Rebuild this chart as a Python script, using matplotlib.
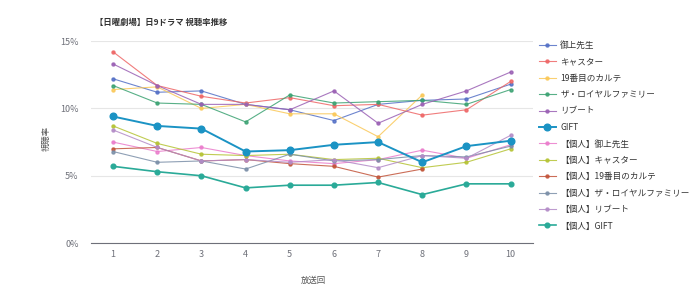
import matplotlib
matplotlib.use("Agg")
import matplotlib.pyplot as plt
import numpy as np

plt.rcParams['font.family'] = ['Noto Sans CJK JP', 'DejaVu Sans']

episodes = [1, 2, 3, 4, 5, 6, 7, 8, 9, 10]

series_names = [
    "御上先生", "キャスター", "19番目のカルテ", "ザ・ロイヤルファミリー", "リブート", "GIFT",
    "【個人】御上先生", "【個人】キャスター", "【個人】19番目のカルテ",
    "【個人】ザ・ロイヤルファミリー", "【個人】リブート", "【個人】GIFT",
]

mikami = [12.2, 11.2, 11.3, 10.3, 9.9, 9.1, 10.3, 10.6, 10.7, 11.8]
caster = [14.2, 11.7, 10.9, 10.4, 10.8, 10.2, 10.3, 9.5, 9.9, 12.0]
karte19 = [11.4, 11.6, 10.0, 10.3, 9.6, 9.6, 7.9, 11.0, None, None]
royal = [11.7, 10.4, 10.3, 9.0, 11.0, 10.4, 10.5, 10.6, 10.3, 11.4]
reboot = [13.3, 11.7, 10.3, 10.3, 9.9, 11.3, 8.9, 10.3, 11.3, 12.7]
gift = [9.4, 8.7, 8.5, 6.8, 6.9, 7.3, 7.5, 6.0, 7.2, 7.6]

p_mikami = [7.5, 6.8, 7.1, 6.5, 6.1, 5.9, 6.2, 6.9, 6.3, 7.3]
p_caster = [8.7, 7.4, 6.6, 6.5, 6.6, 6.2, 6.3, 5.6, 6.0, 7.0]
p_karte19 = [7.0, 7.1, 6.1, 6.2, 5.9, 5.7, 4.9, 5.5, None, None]
p_royal = [6.8, 6.0, 6.1, 5.5, 6.6, 6.1, 6.2, 6.5, 6.4, 7.2]
p_reboot = [8.4, 7.1, 6.1, 6.2, 6.0, 6.2, 5.6, 6.5, 6.3, 8.0]
p_gift = [5.7, 5.3, 5.0, 4.1, 4.3, 4.3, 4.5, 3.6, 4.4, 4.4]

all_series = [mikami, caster, karte19, royal, reboot, gift,
              p_mikami, p_caster, p_karte19, p_royal, p_reboot, p_gift]

colors = ["#5470c6", "#ee6666", "#fac858", "#3ba272", "#9a60b4", "#1b93c4",
          "#ea7ccc", "#b5c334", "#c2543a", "#7b8fa8", "#b38bc7", "#2aaa98"]

fig = plt.figure(figsize=(7.0, 3.02), dpi=100)
ax = fig.add_axes([0.13, 0.195, 0.631, 0.669])

for i, (name, vals, col) in enumerate(zip(series_names, all_series, colors)):
    y = np.array([np.nan if v is None else v for v in vals], dtype=float)
    if i == 5:
        lw, ms, z = 1.4, 4.8, 4
    elif i == 11:
        lw, ms, z = 1.2, 3.4, 3
    else:
        lw, ms, z = 0.8, 2.2, 2
    ax.plot(episodes, y, color=col, lw=lw, marker='o', ms=ms,
            alpha=1.0 if i in (5, 11) else 0.85, label=name, zorder=z)

ax.set_xlim(0.5, 10.5)
ax.set_ylim(0, 15)
ax.set_yticks([0, 5, 10, 15])
ax.set_yticklabels(["0%", "5%", "10%", "15%"])
ax.set_xticks(episodes)
ax.tick_params(axis='both', length=0, labelsize=6.5, colors="#6e7079")
ax.tick_params(axis='x', pad=5)
ax.tick_params(axis='y', pad=9)
ax.grid(axis='y', color="#e6e6e6", lw=0.8)
ax.set_axisbelow(True)
for s in ["top", "right", "left"]:
    ax.spines[s].set_visible(False)
ax.spines["bottom"].set_color("#6e7079")
ax.spines["bottom"].set_linewidth(0.8)

fig.text(0.136, 0.927, "【日曜劇場】日9ドラマ 視聴率推移", fontsize=6, fontweight='bold',
         color="#333333", ha='left', va='center')
fig.text(0.066, 0.54, "視聴率", rotation=90, fontsize=6, style='italic',
         color="#555555", ha='center', va='center')
fig.text(0.447, 0.07, "放送回", fontsize=6, style='italic', color="#555555",
         ha='center', va='center')

leg = ax.legend(loc='upper left', bbox_to_anchor=(1.0, 1.03), frameon=False,
                fontsize=6.2, handlelength=2.0, labelspacing=0.86, borderaxespad=0.3,
                handletextpad=0.5)
for t in leg.get_texts():
    t.set_color("#333333")

fig.savefig("out.png", dpi=100)
